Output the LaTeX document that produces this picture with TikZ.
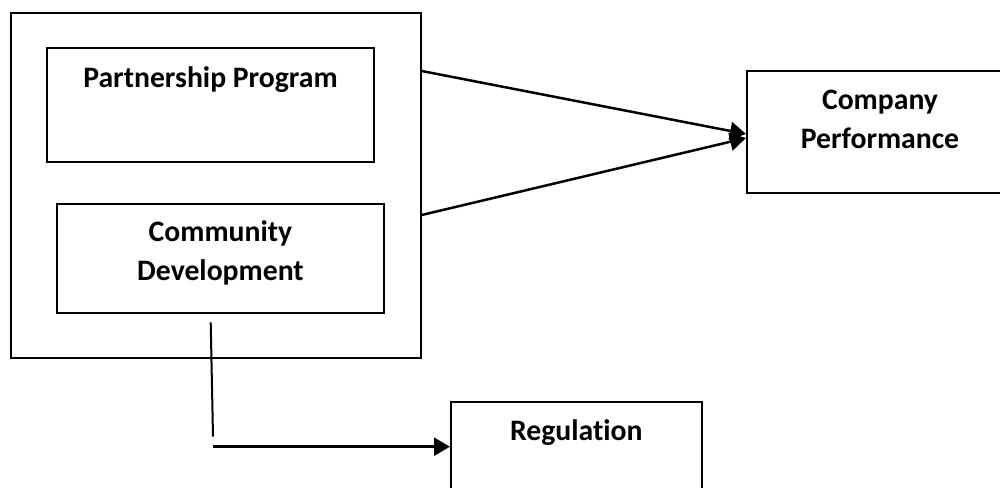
\documentclass[tikz,border=0pt]{standalone}
\usepackage{fontspec}
\setmainfont{Carlito}[Ligatures=NoCommon]
\usetikzlibrary{arrows.meta}
\tikzset{
  box/.style={draw=black, line width=1pt, rectangle, inner sep=0pt},
  lbl/.style={font=\bfseries\fontsize{14.85}{19.3}\selectfont, align=center, inner sep=0pt, anchor=base},
  conn/.style={draw=black, line width=1.25pt},
  arr/.style={conn, -{Triangle[length=8pt,width=9pt]}}
}
\begin{document}
\begin{tikzpicture}[x=0.5pt,y=-0.5pt]
\path[use as bounding box, clip] (0,0) rectangle (1000,487);
\fill[white] (0,0) rectangle (1000,487);
% outer group box
\node[box, minimum width=204.85pt, minimum height=172.2pt] (outer) at (215.85,185.5) {};
% Partnership
\node[box, minimum width=163.5pt, minimum height=57pt] (pp) at (210.5,104.7) {};
\node[lbl] (pptxt) at (210.5,87.3) {Partnership Program};
% Community
\node[box, minimum width=163.5pt, minimum height=54.5pt] (cd) at (220.5,258.5) {};
\node[lbl] (cdtxt) at (220.5,280) {Community\\Development};
% Company performance
\node[box, minimum width=133pt, minimum height=61pt] (cp) at (880,132) {};
\node[lbl] (cptxt) at (880,148.3) {Company\\Performance};
% Regulation
\node[box, minimum width=125.35pt, minimum height=60pt] (reg) at (576.35,461.7) {};
\node[lbl] (regtxt) at (576.35,440) {Regulation};
% connectors
\coordinate (o1) at (outer.east |- 0,71);
\coordinate (o2) at (outer.east |- 0,215);
\coordinate (t1) at (cp.west |- 0,134);
\coordinate (t2) at (cp.west |- 0,138);
\draw[arr] (o1) -- (t1);
\draw[arr] (o2) -- (t2);
\coordinate (v1) at (210.7,322.3);
\coordinate (v2) at (213,436.7);
\draw[conn, line width=1pt] (v1) -- (v2);
\coordinate (h1) at (213.3,446.7);
\draw[arr] (h1) -- (reg.west |- h1);
\end{tikzpicture}
\end{document}
